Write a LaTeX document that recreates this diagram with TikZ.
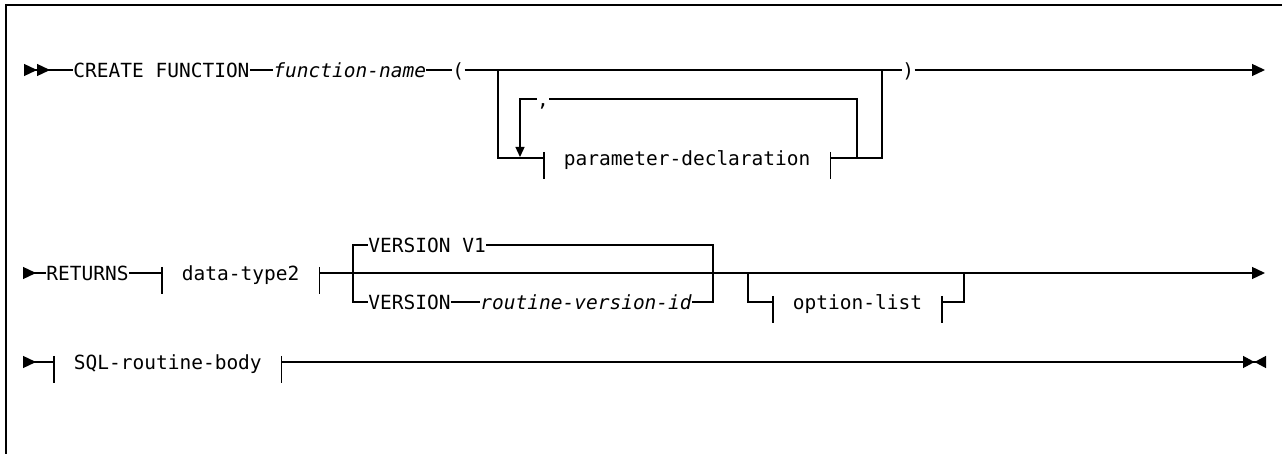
\documentclass[tikz,border=0pt]{standalone}
\usepackage{fontspec}
\setmonofont{DejaVu Sans Mono}
\usetikzlibrary{arrows.meta}

\tikzset{
    rr/.style={line width=0.65pt},
    word/.style={inner sep=0pt, text height=7.1pt, text depth=0pt, font=\ttfamily\fontsize{9.75}{12}\selectfont},
    var/.style={word, font=\ttfamily\itshape\fontsize{9.75}{12}\selectfont},
    ntbox/.style={word, inner xsep=9.75pt},
    starttwo/.style={{Triangle[reversed,length=6.5pt,width=6pt]Triangle[reversed,length=6.5pt,width=6pt]}-},
    startone/.style={{Triangle[reversed,length=6.5pt,width=6pt]}-},
    goon/.style={-{Triangle[length=6.5pt,width=6pt]}},
    stopend/.style={-{Triangle[length=5.75pt,width=6pt]Triangle[reversed,length=5.75pt,width=6pt]}},
    rep/.style={-{Triangle[length=5pt,width=4.5pt]}}
}

\begin{document}
\begin{tikzpicture}[x=0.5pt, y=-0.5pt]

    \useasboundingbox (0,0) rectangle (1282,454);
    \draw[line width=1pt] (1282,5) -- (6,5) -- (6,454);

    % first line
    \coordinate (s1) at (24,70);
    \node[word, anchor=west] (cf) at (73,70) {CREATE FUNCTION};
    \node[var, anchor=west] (fn) at (273,70) {function-name};
    \node[word, anchor=west] (lp) at (452,70) {(};
    \node[word, anchor=west] (rp) at (902,70) {)};
    \coordinate (e1) at (1265,70);
    \node[ntbox, anchor=west] (pd) at (544,158) {parameter-declaration};
    \node[word] (cm) at (543,99) {,};
    \coordinate (j1) at (498,70);
    \coordinate (j2) at (882,70);
    \coordinate (r1) at (857,158);
    \coordinate (r2) at (520,157);

    \draw[rr, starttwo] (s1) -- (cf);
    \draw[rr] (cf) -- (fn);
    \draw[rr] (fn) -- (lp);
    \draw[rr] (lp) -- (rp);
    \draw[rr, goon] (rp) -- (e1);
    \draw[rr] (j1) |- (pd);
    \draw[rr] (pd) -| (j2);
    \draw[rr] (r1) |- (cm);
    \draw[rr, rep] (cm) -| (r2);

    % second line
    \coordinate (s2) at (23,273);
    \node[word, anchor=west] (rt) at (46,273) {RETURNS};
    \node[ntbox, anchor=west] (dt) at (162,273) {data-type2};
    \coordinate (v1) at (353,273);
    \coordinate (v2) at (713,273);
    \node[word, anchor=west] (vd) at (368,245) {VERSION V1};
    \node[word, anchor=west] (vn) at (368,302) {VERSION};
    \node[var, anchor=west] (vi) at (480,302) {routine-version-id};
    \coordinate (o1) at (748,273);
    \coordinate (o2) at (964,273);
    \node[ntbox, anchor=west] (ol) at (773,302) {option-list};
    \coordinate (e2) at (1265,273);

    \draw[rr, startone] (s2) -- (rt);
    \draw[rr] (rt) -- (dt);
    \draw[rr, goon] (dt) -- (e2);
    \draw[rr] (v1) |- (vd);
    \draw[rr] (vd) -| (v2);
    \draw[rr] (v1) |- (vn);
    \draw[rr] (vn) -- (vi);
    \draw[rr] (vi) -| (v2);
    \draw[rr] (o1) |- (ol);
    \draw[rr] (ol) -| (o2);

    % third line
    \coordinate (s3) at (23,362);
    \node[ntbox, anchor=west] (sq) at (54,362) {SQL-routine-body};
    \coordinate (e3) at (1266,362);

    \draw[rr, startone] (s3) -- (sq);
    \draw[rr, stopend] (sq) -- (e3);

    % bars of the boxes
    \foreach \b in {pd,dt,ol,sq} {
        \draw[rr] ([yshift=3pt]\b.west) -- ([yshift=-10.5pt]\b.west);
        \draw[rr] ([yshift=3pt]\b.east) -- ([yshift=-10.5pt]\b.east);
    }

\end{tikzpicture}
\end{document}
